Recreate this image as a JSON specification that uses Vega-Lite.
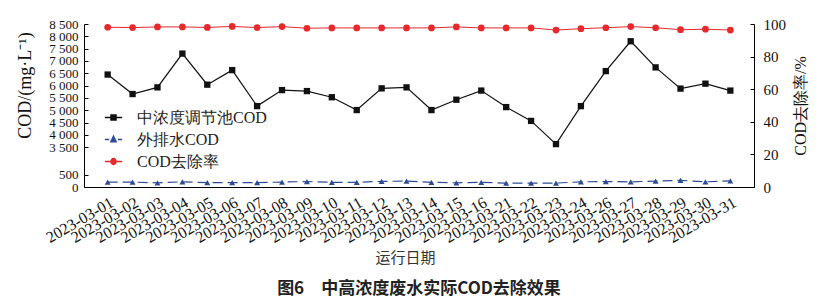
{
  "$schema": "https://vega.github.io/schema/vega-lite/v6.json",
  "width": 670,
  "height": 163,
  "autosize": {"type": "none"},
  "padding": {"left": 84, "top": 24, "right": 69, "bottom": 112},
  "background": "white",
  "config": {
    "view": {"stroke": null},
    "font": "Liberation Serif",
    "axis": {"grid": false, "domainColor": "#000", "tickColor": "#000", "labelColor": "#111", "titleColor": "#111", "labelFont": "Liberation Serif", "labelFontSize": 13, "titleFontWeight": "normal", "labelOverlap": false}
  },
  "title": {"text": "图6　中高浓度废水实际COD去除效果", "orient": "bottom", "anchor": "middle", "font": "Noto Sans CJK SC", "fontSize": 17, "fontWeight": "bold", "color": "#222", "offset": 16},
  "datasets": {
    "cod": [
      {"date": "2023-03-01", "series": "中浓度调节池COD", "value": 6450},
      {"date": "2023-03-02", "series": "中浓度调节池COD", "value": 5660},
      {"date": "2023-03-03", "series": "中浓度调节池COD", "value": 5930},
      {"date": "2023-03-04", "series": "中浓度调节池COD", "value": 7300},
      {"date": "2023-03-05", "series": "中浓度调节池COD", "value": 6040},
      {"date": "2023-03-06", "series": "中浓度调节池COD", "value": 6630},
      {"date": "2023-03-07", "series": "中浓度调节池COD", "value": 5170},
      {"date": "2023-03-08", "series": "中浓度调节池COD", "value": 5820},
      {"date": "2023-03-09", "series": "中浓度调节池COD", "value": 5780},
      {"date": "2023-03-10", "series": "中浓度调节池COD", "value": 5530},
      {"date": "2023-03-11", "series": "中浓度调节池COD", "value": 5010},
      {"date": "2023-03-12", "series": "中浓度调节池COD", "value": 5890},
      {"date": "2023-03-13", "series": "中浓度调节池COD", "value": 5930},
      {"date": "2023-03-14", "series": "中浓度调节池COD", "value": 5010},
      {"date": "2023-03-15", "series": "中浓度调节池COD", "value": 5430},
      {"date": "2023-03-16", "series": "中浓度调节池COD", "value": 5800},
      {"date": "2023-03-21", "series": "中浓度调节池COD", "value": 5130},
      {"date": "2023-03-22", "series": "中浓度调节池COD", "value": 4570},
      {"date": "2023-03-23", "series": "中浓度调节池COD", "value": 3630},
      {"date": "2023-03-24", "series": "中浓度调节池COD", "value": 5170},
      {"date": "2023-03-26", "series": "中浓度调节池COD", "value": 6590},
      {"date": "2023-03-27", "series": "中浓度调节池COD", "value": 7800},
      {"date": "2023-03-28", "series": "中浓度调节池COD", "value": 6740},
      {"date": "2023-03-29", "series": "中浓度调节池COD", "value": 5880},
      {"date": "2023-03-30", "series": "中浓度调节池COD", "value": 6080},
      {"date": "2023-03-31", "series": "中浓度调节池COD", "value": 5800},
      {"date": "2023-03-01", "series": "外排水COD", "value": 200},
      {"date": "2023-03-02", "series": "外排水COD", "value": 200},
      {"date": "2023-03-03", "series": "外排水COD", "value": 170},
      {"date": "2023-03-04", "series": "外排水COD", "value": 210},
      {"date": "2023-03-05", "series": "外排水COD", "value": 180},
      {"date": "2023-03-06", "series": "外排水COD", "value": 180},
      {"date": "2023-03-07", "series": "外排水COD", "value": 180},
      {"date": "2023-03-08", "series": "外排水COD", "value": 200},
      {"date": "2023-03-09", "series": "外排水COD", "value": 220},
      {"date": "2023-03-10", "series": "外排水COD", "value": 190},
      {"date": "2023-03-11", "series": "外排水COD", "value": 190},
      {"date": "2023-03-12", "series": "外排水COD", "value": 230},
      {"date": "2023-03-13", "series": "外排水COD", "value": 240},
      {"date": "2023-03-14", "series": "外排水COD", "value": 190},
      {"date": "2023-03-15", "series": "外排水COD", "value": 170},
      {"date": "2023-03-16", "series": "外排水COD", "value": 190},
      {"date": "2023-03-21", "series": "外排水COD", "value": 160},
      {"date": "2023-03-22", "series": "外排水COD", "value": 160},
      {"date": "2023-03-23", "series": "外排水COD", "value": 160},
      {"date": "2023-03-24", "series": "外排水COD", "value": 210},
      {"date": "2023-03-26", "series": "外排水COD", "value": 220},
      {"date": "2023-03-27", "series": "外排水COD", "value": 210},
      {"date": "2023-03-28", "series": "外排水COD", "value": 240},
      {"date": "2023-03-29", "series": "外排水COD", "value": 270},
      {"date": "2023-03-30", "series": "外排水COD", "value": 210},
      {"date": "2023-03-31", "series": "外排水COD", "value": 250},
      {"date": "2023-03-01", "series": "COD去除率", "value": 98.0},
      {"date": "2023-03-02", "series": "COD去除率", "value": 97.8},
      {"date": "2023-03-03", "series": "COD去除率", "value": 98.2},
      {"date": "2023-03-04", "series": "COD去除率", "value": 98.2},
      {"date": "2023-03-05", "series": "COD去除率", "value": 97.9},
      {"date": "2023-03-06", "series": "COD去除率", "value": 98.5},
      {"date": "2023-03-07", "series": "COD去除率", "value": 97.8},
      {"date": "2023-03-08", "series": "COD去除率", "value": 98.4},
      {"date": "2023-03-09", "series": "COD去除率", "value": 97.4},
      {"date": "2023-03-10", "series": "COD去除率", "value": 97.6},
      {"date": "2023-03-11", "series": "COD去除率", "value": 97.6},
      {"date": "2023-03-12", "series": "COD去除率", "value": 97.6},
      {"date": "2023-03-13", "series": "COD去除率", "value": 97.6},
      {"date": "2023-03-14", "series": "COD去除率", "value": 97.6},
      {"date": "2023-03-15", "series": "COD去除率", "value": 98.2},
      {"date": "2023-03-16", "series": "COD去除率", "value": 97.6},
      {"date": "2023-03-21", "series": "COD去除率", "value": 97.6},
      {"date": "2023-03-22", "series": "COD去除率", "value": 97.6},
      {"date": "2023-03-23", "series": "COD去除率", "value": 96.3},
      {"date": "2023-03-24", "series": "COD去除率", "value": 97.1},
      {"date": "2023-03-26", "series": "COD去除率", "value": 97.7},
      {"date": "2023-03-27", "series": "COD去除率", "value": 98.4},
      {"date": "2023-03-28", "series": "COD去除率", "value": 97.7},
      {"date": "2023-03-29", "series": "COD去除率", "value": 96.5},
      {"date": "2023-03-30", "series": "COD去除率", "value": 96.8},
      {"date": "2023-03-31", "series": "COD去除率", "value": 96.3}
    ]
  },
  "layer": [
    {
      "data": {"name": "cod"},
      "transform": [{"filter": "datum.series != 'COD去除率'"}],
      "encoding": {
        "x": {
          "field": "date", "type": "ordinal",
          "scale": {"type": "point", "padding": 0.95},
          "axis": {"title": "运行日期", "titleFont": "Noto Sans CJK SC", "titleFontSize": 15, "titleColor": "#333", "titleX": 321, "titleY": 63, "titleAnchor": null, "labelAngle": -30, "labelAlign": "right", "labelBaseline": "middle", "labelPadding": 14, "labelOffset": 4, "ticks": false, "labelFontSize": 16}
        },
        "y": {
          "field": "value", "type": "quantitative",
          "scale": {"domain": [0, 500, 3500, 8500], "range": [163, 150.7, 123.3, 0], "nice": false, "zero": false},
          "axis": {
            "orient": "left",
            "values": [0, 500, 3500, 4000, 4500, 5000, 5500, 6000, 6500, 7000, 7500, 8000, 8500],
            "labelExpr": "replace(format(datum.value, ','), ',', ' ')",
            "tickSize": -4, "labelPadding": 10,
            "title": "COD/(mg·L⁻¹)", "titleFont": "Liberation Serif", "titleFontSize": 18,
            "titleX": -59, "titleY": 61, "titleAngle": -90, "titleAlign": "center", "titleBaseline": "middle"
          }
        }
      },
      "layer": [
        {"transform": [{"filter": "datum.series == '中浓度调节池COD'"}], "mark": {"type": "line", "color": "#111", "strokeWidth": 1.2}},
        {"transform": [{"filter": "datum.series == '中浓度调节池COD'"}], "mark": {"type": "point", "shape": "square", "filled": true, "color": "#111", "size": 40, "opacity": 1}},
        {"transform": [{"filter": "datum.series == '外排水COD'"}], "mark": {"type": "line", "color": "#2c4a96", "strokeWidth": 1.2, "strokeDash": [10, 5]}},
        {"transform": [{"filter": "datum.series == '外排水COD'"}], "mark": {"type": "point", "shape": "triangle-up", "filled": true, "color": "#2c4a96", "size": 35, "opacity": 1}},
        {
          "transform": [{"filter": "datum.series == 'none'"}],
          "mark": {"type": "point", "filled": true, "opacity": 1, "size": 300, "strokeWidth": 1.3},
          "encoding": {
            "shape": {
              "field": "series", "type": "nominal",
              "scale": {"domain": ["中浓度调节池COD", "外排水COD", "COD去除率"], "range": ["M-1,0H1M-0.3,-0.3H0.3V0.3H-0.3Z", "M-1,0H-0.5M0.5,0H1M0,-0.4L0.32,0.28H-0.32Z", "M-1,0H1M0.3,0A0.3,0.35,0,1,1,-0.3,0A0.3,0.35,0,1,1,0.3,0Z"]},
              "legend": {
                "orient": "none", "legendX": 20, "legendY": 84, "title": null, "padding": 0,
                "symbolSize": 300, "symbolStrokeWidth": 1.3, "labelFontSize": 16, "labelFont": "Liberation Serif", "labelColor": "#222",
                "labelOffset": 14, "rowPadding": 4
              }
            },
            "fill": {
              "field": "series", "type": "nominal",
              "scale": {"domain": ["中浓度调节池COD", "外排水COD", "COD去除率"], "range": ["#111111", "#2c4a96", "#e8282b"]}
            },
            "stroke": {
              "field": "series", "type": "nominal",
              "scale": {"domain": ["中浓度调节池COD", "外排水COD", "COD去除率"], "range": ["#111111", "#2c4a96", "#e8282b"]}
            }
          }
        },
        {
          "data": {"values": [{}]},
          "mark": {"type": "text", "text": "=", "angle": -35, "fontSize": 16, "font": "Liberation Serif", "color": "#111"},
          "encoding": {"x": {"value": 0}, "y": {"datum": 2000}}
        }
      ]
    },
    {
      "data": {"name": "cod"},
      "transform": [{"filter": "datum.series == 'COD去除率'"}],
      "encoding": {
        "x": {"field": "date", "type": "ordinal"},
        "y": {
          "field": "value", "type": "quantitative",
          "scale": {"domain": [0, 100], "nice": false},
          "axis": {
            "orient": "right", "values": [0, 20, 40, 60, 80, 100],
            "tickSize": -4, "labelPadding": 13, "labelFontSize": 15,
            "title": "COD去除率/%", "titleFont": "Liberation Serif", "titleFontSize": 16,
            "titleX": 46, "titleY": 81.5, "titleAngle": -90, "titleAlign": "center", "titleBaseline": "middle"
          }
        }
      },
      "layer": [
        {"mark": {"type": "line", "color": "#e8282b", "strokeWidth": 1}},
        {"mark": {"type": "point", "shape": "circle", "filled": true, "color": "#e8282b", "size": 45, "opacity": 1}}
      ]
    }
  ],
  "resolve": {"scale": {"y": "independent"}}
}
